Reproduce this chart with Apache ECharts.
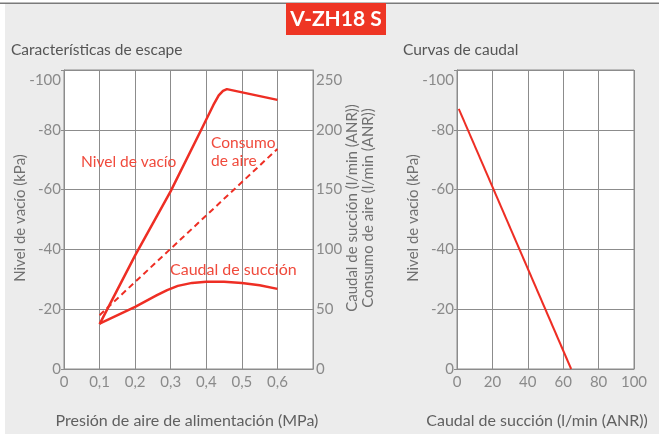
<!DOCTYPE html>
<html><head><meta charset="utf-8">
<script src="https://cdn.jsdelivr.net/npm/echarts@6/dist/echarts.min.js"></script>
<style>html,body{margin:0;padding:0;background:#fff}#c{width:659px;height:434px}</style>
</head><body><div id="c"></div>
<script>
// ---- data ----
const pressureTicks = [0, 0.1, 0.2, 0.3, 0.4, 0.5, 0.6];
const vacuumLevel = [[0.1,-15],[0.2,-38],[0.3,-59.5],[0.39,-81],[0.42,-88.3],[0.435,-91.5],[0.447,-93],[0.458,-93.6],[0.6,-90]];
const suctionFlow = [[0.1,38],[0.2,52],[0.26,61.5],[0.29,66],[0.32,69.5],[0.36,72],[0.4,73],[0.45,73],[0.5,72],[0.55,70],[0.6,67]];
const airConsumption = [[0.1,45],[0.6,184]];
const flowCurve = [[1,-87],[64.5,0]];

const RED = '#ee2e24';
const FONT = 'Lato';
const tickColor = '#8a8a8a';
const gridColor = '#8c8c8c';

const chart = echarts.init(document.getElementById('c'), null, {renderer:'canvas'});

function yLab(v){ return v === -100 ? '{t|-100}' : String(v); }

chart.setOption({
  animation: false,
  textStyle: {fontFamily: FONT},
  graphic: [
    {type:'rect', shape:{x:5,y:4,width:654,height:430}, style:{fill:'#ececec'}, z:-10},
    {type:'rect', shape:{x:0,y:2.5,width:659,height:1.5}, style:{fill:'#7a7a7a'}, z:-9},
    {type:'rect', shape:{x:286,y:3,width:100,height:32}, style:{fill:'#ee3524'}, z:10},
    {type:'text', x:336, y:19.5, style:{text:'V-ZH18 S', fill:'#fff', font:'bold 21px Lato', align:'center', verticalAlign:'middle'}, z:11},
    {type:'text', x:11, y:50, style:{text:'Características de escape', fill:'#555', font:'15.5px Lato', align:'left', verticalAlign:'middle'}},
    {type:'text', x:403, y:50, style:{text:'Curvas de caudal', fill:'#555', font:'15.5px Lato', align:'left', verticalAlign:'middle'}},
    {type:'text', x:20, y:218, rotation:Math.PI/2, style:{text:'Nivel de vacío (kPa)', fill:'#707070', font:'15px Lato', align:'center', verticalAlign:'middle'}},
    {type:'text', x:413, y:218, rotation:Math.PI/2, style:{text:'Nivel de vacío (kPa)', fill:'#707070', font:'15px Lato', align:'center', verticalAlign:'middle'}},
    {type:'text', x:360, y:208, rotation:Math.PI/2, style:{text:'Caudal de succión (l/min (ANR))\nConsumo de aire (l/min (ANR))', fill:'#707070', font:'15px Lato', lineHeight:16, align:'center', verticalAlign:'middle'}},
    {type:'text', x:187, y:421, style:{text:'Presión de aire de alimentación (MPa)', fill:'#606060', font:'16px Lato', align:'center', verticalAlign:'middle'}},
    {type:'text', x:537, y:421, style:{text:'Caudal de succión (l/min (ANR))', fill:'#606060', font:'16px Lato', align:'center', verticalAlign:'middle'}},
    {type:'text', x:81, y:162, style:{text:'Nivel de vacío', fill:'#f04a3c', font:'15.5px Lato', align:'left', verticalAlign:'middle'}, z:20},
    {type:'text', x:211, y:152, style:{text:'Consumo\nde aire', fill:'#f04a3c', font:'15.5px Lato', lineHeight:18, align:'left', verticalAlign:'middle'}, z:20},
    {type:'text', x:170, y:270, style:{text:'Caudal de succión', fill:'#f04a3c', font:'16px Lato', align:'left', verticalAlign:'middle'}, z:20}
  ],
  grid: [
    {left:64, top:70, width:249, height:299, show:true, backgroundColor:'#fff', borderColor:gridColor, borderWidth:1},
    {left:457, top:70, width:177, height:299, show:true, backgroundColor:'#fff', borderColor:gridColor, borderWidth:1}
  ],
  xAxis: [
    {gridIndex:0, type:'value', min:0, max:0.7, interval:0.1,
     axisLine:{show:true, lineStyle:{color:gridColor}}, axisTick:{show:false},
     splitLine:{show:true, lineStyle:{color:gridColor, width:1}},
     axisLabel:{color:tickColor, fontSize:15, fontFamily:FONT, margin:6,
       formatter: v => { const i = pressureTicks.findIndex(t => Math.abs(t - v) < 1e-6); return i < 0 ? '' : String(pressureTicks[i]).replace('.', ','); }}},
    {gridIndex:1, type:'value', min:0, max:100, interval:20,
     axisLine:{show:true, lineStyle:{color:gridColor}}, axisTick:{show:false},
     splitLine:{show:true, lineStyle:{color:gridColor, width:1}},
     axisLabel:{color:tickColor, fontSize:15, fontFamily:FONT, margin:6}}
  ],
  yAxis: [
    {gridIndex:0, type:'value', min:-100, max:0, interval:20, inverse:true,
     axisLine:{show:true, lineStyle:{color:gridColor}}, axisTick:{show:true, length:3, lineStyle:{color:gridColor}},
     splitLine:{show:true, lineStyle:{color:gridColor, width:1}},
     axisLabel:{color:tickColor, fontSize:15, fontFamily:FONT, margin:3, formatter:yLab, rich:{t:{padding:[20,0,0,0], fontSize:15, color:tickColor, fontFamily:FONT}}}},
    {gridIndex:0, type:'value', min:0, max:250, interval:50, position:'right',
     axisLine:{show:true, lineStyle:{color:gridColor}}, axisTick:{show:false},
     splitLine:{show:false},
     axisLabel:{color:tickColor, fontSize:15, fontFamily:FONT, margin:3, formatter: v => v === 250 ? '{t|250}' : String(v), rich:{t:{padding:[20,0,0,0], fontSize:15, color:tickColor, fontFamily:FONT}}}},
    {gridIndex:1, type:'value', min:-100, max:0, interval:20, inverse:true,
     axisLine:{show:true, lineStyle:{color:gridColor}}, axisTick:{show:true, length:3, lineStyle:{color:gridColor}},
     splitLine:{show:true, lineStyle:{color:gridColor, width:1}},
     axisLabel:{color:tickColor, fontSize:15, fontFamily:FONT, margin:3, formatter:yLab, rich:{t:{padding:[20,0,0,0], fontSize:15, color:tickColor, fontFamily:FONT}}}}
  ],
  series: [
    {type:'line', xAxisIndex:0, yAxisIndex:0, data:vacuumLevel, showSymbol:false, lineStyle:{color:RED, width:2.5, join:'round'}, z:5},
    {type:'line', xAxisIndex:0, yAxisIndex:1, data:suctionFlow, showSymbol:false, lineStyle:{color:RED, width:2.5, join:'round'}, z:5},
    {type:'line', xAxisIndex:0, yAxisIndex:1, data:airConsumption, showSymbol:false, lineStyle:{color:RED, width:2, type:[6,4]}, z:5},
    {type:'line', xAxisIndex:1, yAxisIndex:2, data:flowCurve, showSymbol:false, lineStyle:{color:RED, width:2}, z:5}
  ]
});
</script></body></html>
